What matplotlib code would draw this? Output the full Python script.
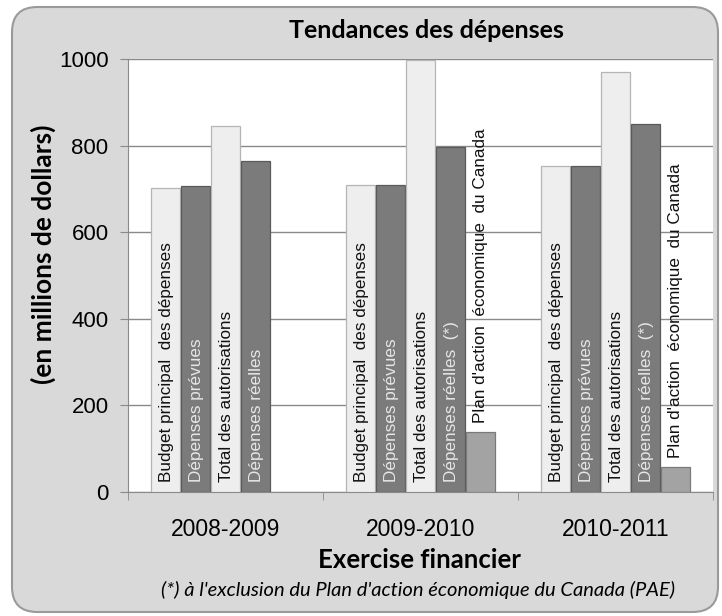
import matplotlib
matplotlib.use("Agg")
import matplotlib.pyplot as plt
from matplotlib.patches import FancyBboxPatch
import numpy as np

# data (millions de dollars)
years = ["2008-2009", "2009-2010", "2010-2011"]
budget_principal = [702, 708, 753]
depenses_prevues = [706, 708, 753]
total_autorisations = [846, 997, 970]
depenses_reelles = [764, 796, 850]
plan_action = [None, 139, 58]
bar_labels = [
    ["Budget principal  des dépenses", "Dépenses prévues", "Total des autorisations", "Dépenses réelles", None],
    ["Budget principal  des dépenses", "Dépenses prévues", "Total des autorisations", "Dépenses réelles  (*)",
     "Plan d'action  économique  du Canada"],
    ["Budget principal  des dépenses", "Dépenses prévues", "Total des autorisations", "Dépenses réelles  (*)",
     "Plan d'action  économique  du Canada"],
]

all_values = [budget_principal, depenses_prevues, total_autorisations, depenses_reelles, plan_action]
face_colors = ["#eeeeee", "#7b7b7b", "#eeeeee", "#7b7b7b", "#a3a3a3"]
edge_colors = ["#b5b5b5", "#5a5a5a", "#b5b5b5", "#5a5a5a", "#7a7a7a"]
text_colors = ["#111111", "#e6e6e6", "#111111", "#e6e6e6", "#111111"]

fig = plt.figure(figsize=(7.22, 6.16), dpi=100)
fig.patch.set_facecolor("white")

# rounded grey frame behind everything
frame = FancyBboxPatch((12 / 722, 4 / 616), 706 / 722, 605 / 616,
                       boxstyle="round,pad=0,rounding_size=0.035",
                       mutation_aspect=722 / 616,
                       transform=fig.transFigure, facecolor="#d9d9d9",
                       edgecolor="#9a9a9a", linewidth=1.5, zorder=-5)
fig.patches.append(frame)

ax = fig.add_axes([128 / 722, 124 / 616, 585 / 722, 433 / 616])
ax.set_zorder(2)
ax.set_facecolor("white")

x = np.arange(len(years))
w = 0.153
for i, vals in enumerate(all_values):
    for j, v in enumerate(vals):
        if v is None:
            continue
        xpos = x[j] + (i - 2) * w
        ax.bar(xpos, v, width=w * 0.97, color=face_colors[i],
               edgecolor=edge_colors[i], linewidth=0.9, zorder=3)
        lab = bar_labels[j][i]
        if lab is None:
            continue
        if i == 4:
            ty = v + 20
        else:
            ty = 22
        ax.text(xpos + 0.004, ty, lab, rotation=90, ha="center", va="bottom",
                fontsize=12.3, family="Liberation Sans", color=text_colors[i],
                zorder=4)

ax.set_xlim(-0.5, 2.5)
ax.set_ylim(0, 1000)
ax.set_yticks(np.arange(0, 1001, 200))
ax.yaxis.grid(True, color="#8a8a8a", linewidth=1.0, zorder=1)
ax.set_axisbelow(True)

ax.set_xticks(x)
ax.set_xticklabels(years, family="Liberation Sans", fontsize=16.5)
ax.set_xticks([-0.5, 0.5, 1.5, 2.5], minor=True)
ax.tick_params(axis="x", which="major", length=0, pad=19)
ax.tick_params(axis="x", which="minor", length=6, color="#8a8a8a")
ax.tick_params(axis="y", length=6, color="#8a8a8a", pad=8)
for t in ax.get_yticklabels():
    t.set_family("Liberation Sans")
    t.set_fontsize(16)

for s in ["top", "right"]:
    ax.spines[s].set_visible(False)
ax.spines["left"].set_color("#8a8a8a")
ax.spines["bottom"].set_color("#8a8a8a")

fig.text(426 / 722, 1 - 30 / 616, "Tendances des dépenses", ha="center", va="center",
         family="Lato", fontweight="bold", fontsize=18)
fig.text(43 / 722, 1 - 254 / 616, "(en millions de dollars)", ha="center", va="center",
         rotation=90, family="Lato", fontweight="bold", fontsize=19)
fig.text(419 / 722, 1 - 560 / 616, "Exercise financier", ha="center", va="center",
         family="Lato", fontweight="bold", fontsize=18.5)
fig.text(418 / 722, 1 - 590 / 616,
         "(*) à l'exclusion du Plan d'action économique du Canada (PAE)",
         ha="center", va="center", family="Lato", style="italic", fontsize=14.5)

fig.savefig("out.png", dpi=100)
